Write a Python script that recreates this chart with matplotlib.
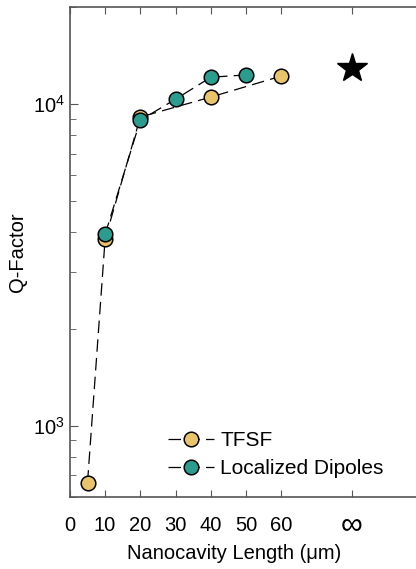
import numpy as np
import matplotlib.pyplot as plt
import matplotlib.transforms as mtransforms

plt.rcParams['font.family'] = ['Liberation Sans', 'DejaVu Sans']

# Q-factor vs nanocavity length
tfsf_x = [5, 10, 20, 40, 60]
tfsf_q = [665, 3800, 9100, 10500, 12200]
dip_x = [10, 20, 30, 40, 50]
dip_q = [3930, 8900, 10340, 12100, 12300]
inf_x = 80
inf_q = 12900

xticks = [0, 10, 20, 30, 40, 50, 60, 80]
xticklabels = ['0', '10', '20', '30', '40', '50', '60', '∞']

c_tfsf = '#e9c46a'
c_dip = '#2a9d8f'
spine_c = '#555555'

fig = plt.figure(figsize=(4.16, 5.69), dpi=100)
ax = fig.add_axes([0.168, 0.1265, 0.847, 0.8612])

ax.plot(tfsf_x, tfsf_q, color='black', lw=0.9, dashes=(10, 5),
        marker='o', ms=10.5, mfc=c_tfsf, mec='black', mew=1.1, label='TFSF', zorder=3)
ax.plot(dip_x, dip_q, color='black', lw=0.9, dashes=(10, 5),
        marker='o', ms=10.5, mfc=c_dip, mec='black', mew=1.1, label='Localized Dipoles', zorder=4)
ax.plot([inf_x], [inf_q], marker='*', ms=22, color='black', ls='none', zorder=5)

ax.set_yscale('log')
ax.set_ylim(600, 20000)
ax.set_xlim(0, 100)
ax.set_xticks(xticks)
ax.set_xticklabels(xticklabels)

ax.spines['right'].set_visible(False)
for s in ['left', 'top', 'bottom']:
    ax.spines[s].set_color(spine_c)
    ax.spines[s].set_linewidth(1.2)

ax.tick_params(axis='both', which='both', direction='in', color=spine_c,
               labelsize=14.5, top=True, right=False)
ax.tick_params(axis='x', which='major', length=5, pad=14)
ax.tick_params(axis='y', which='major', length=6)
ax.tick_params(axis='y', which='minor', length=4)
ax.tick_params(axis='x', which='minor', bottom=False, top=False)

# larger infinity sign, nudged up to sit on the number row
inf_label = ax.get_xticklabels()[-1]
inf_label.set_fontsize(22)
inf_label.set_transform(inf_label.get_transform() +
                        mtransforms.ScaledTranslation(0, 6 / 100, fig.dpi_scale_trans))

ax.set_xlabel('Nanocavity Length (μm)', fontsize=14.5)
ax.xaxis.set_label_coords(0.465, -0.095)
ax.set_ylabel('Q-Factor', fontsize=14.5, labelpad=4)

ax.legend(loc='lower left', bbox_to_anchor=(0.225, 0.0), frameon=False,
          fontsize=15, handlelength=2.2, handletextpad=0.3, labelspacing=0.45)

fig.savefig('out.png', dpi=100)
